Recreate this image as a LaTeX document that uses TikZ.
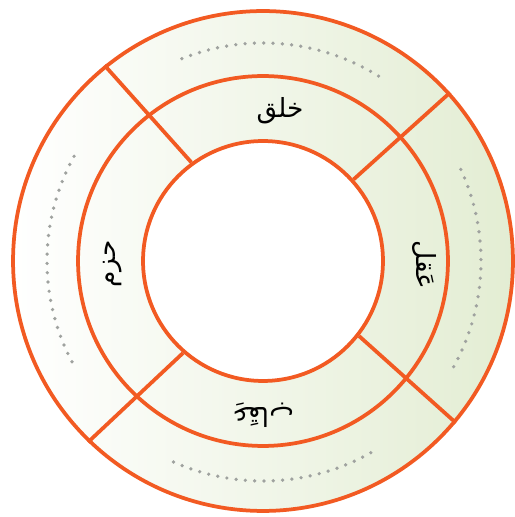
\documentclass[tikz,border=0pt]{standalone}
\usepackage{fontspec}
\newfontfamily\arabicfont[Script=Arabic]{DejaVu Sans}
\TeXXeTstate=1
\definecolor{ringorange}{HTML}{F25A22}
\definecolor{ringgreen}{HTML}{E3EDD3}
\definecolor{dotgray}{HTML}{9FA29F}

\begin{document}
\begin{tikzpicture}[x=0.02cm,y=0.02cm,
  ring/.style={circle,draw=ringorange,line width=0.075cm,inner sep=0pt},
  divider/.style={draw=ringorange,line width=0.075cm},
  dotarc/.style={draw=dotgray,line width=2.1pt,line cap=round,
    dash pattern=on 0pt off 5.3pt},
  virtue/.style={font=\arabicfont\fontsize{15}{17}\selectfont,inner sep=1pt}
]
\useasboundingbox (0,0) rectangle (514,517);
\coordinate (c) at (263,256);

\node[ring,minimum size=10cm,left color=white,right color=ringgreen] (outer) at (c) {};
\node[ring,minimum size=7.4cm] (middle) at (c) {};
\node[ring,minimum size=4.8cm,fill=white] (inner) at (c) {};

% dividing spokes
\draw[divider] (inner.126) -- (outer.129);
\draw[divider] (inner.42) -- (outer.42);
\draw[divider] (inner.-38) -- (outer.-40);
\draw[divider] (inner.229) -- (outer.226);

% dotted arcs in the outer ring
\draw[dotarc] (c) ++(58:218) arc[start angle=58,end angle=114,radius=4.36cm];
\draw[dotarc] (c) ++(151:216) arc[start angle=151,end angle=208,radius=4.32cm];
\draw[dotarc] (c) ++(-114:220) arc[start angle=-114,end angle=-59,radius=4.4cm];
\draw[dotarc] (c) ++(-29:218) arc[start angle=-29,end angle=25,radius=4.36cm];

% labels
\node[virtue] (khalq) at (280,406) {\beginR خلق\endR};
\node[virtue,rotate=90] (hazm) at (113,253) {\beginR حزم\endR};
\node[virtue,rotate=-90] (aql) at (424,252) {\beginR عَقل\endR};
\node[virtue,rotate=180] (iqab) at (263,102) {\beginR عِقَاب\endR};
\end{tikzpicture}
\end{document}
